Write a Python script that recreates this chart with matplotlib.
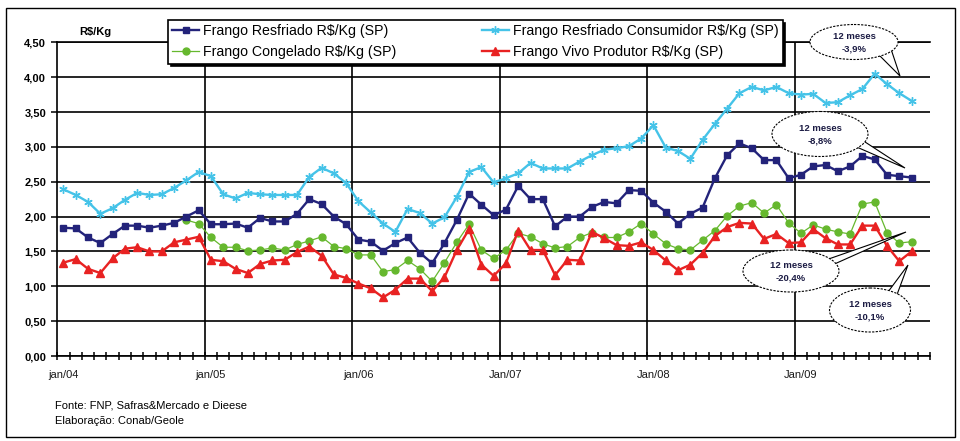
import matplotlib.pyplot as plt
import numpy as np
from matplotlib.patches import Ellipse, Polygon, Rectangle
from matplotlib.ticker import FuncFormatter

plt.rcParams['font.family'] = ['Liberation Sans', 'DejaVu Sans']

# monthly prices, jan/04 .. out/09 (R$/Kg)
year_labels = ['jan/04', 'jan/05', 'jan/06', 'Jan/07', 'Jan/08', 'Jan/09']
n_slots = 71  # axis has room for one more month

resfriado = [1.84, 1.83, 1.70, 1.62, 1.75, 1.87, 1.87, 1.84, 1.87, 1.91, 2.00, 2.09,
             1.89, 1.89, 1.90, 1.84, 1.98, 1.93, 1.93, 2.04, 2.25, 2.18, 2.00, 1.89,
             1.67, 1.64, 1.51, 1.62, 1.70, 1.48, 1.33, 1.62, 1.95, 2.33, 2.17, 2.02,
             2.10, 2.44, 2.25, 2.25, 1.86, 2.00, 2.00, 2.14, 2.21, 2.19, 2.38, 2.37,
             2.20, 2.07, 1.90, 2.04, 2.13, 2.55, 2.88, 3.05, 2.98, 2.81, 2.81, 2.55,
             2.60, 2.72, 2.74, 2.65, 2.72, 2.87, 2.82, 2.60, 2.58, 2.56]

consumidor = [2.39, 2.31, 2.21, 2.04, 2.12, 2.24, 2.34, 2.31, 2.32, 2.41, 2.52, 2.64,
              2.58, 2.32, 2.26, 2.34, 2.32, 2.31, 2.31, 2.31, 2.57, 2.70, 2.62, 2.48,
              2.22, 2.06, 1.90, 1.78, 2.11, 2.05, 1.90, 1.99, 2.28, 2.64, 2.71, 2.49,
              2.55, 2.62, 2.77, 2.69, 2.69, 2.69, 2.79, 2.88, 2.96, 2.98, 3.01, 3.12,
              3.31, 2.99, 2.94, 2.83, 3.10, 3.33, 3.55, 3.77, 3.86, 3.81, 3.86, 3.77,
              3.75, 3.76, 3.63, 3.64, 3.74, 3.83, 4.05, 3.90, 3.77, 3.66]

congelado = [None] * 10 + [
             1.95, 1.90,
             1.70, 1.56, 1.56, 1.51, 1.52, 1.55, 1.52, 1.60, 1.65, 1.71, 1.57, 1.54,
             1.45, 1.45, 1.21, 1.24, 1.37, 1.25, 1.07, 1.34, 1.63, 1.89, 1.52, 1.40,
             1.52, 1.76, 1.71, 1.61, 1.55, 1.57, 1.70, 1.77, 1.70, 1.70, 1.78, 1.90,
             1.75, 1.61, 1.54, 1.52, 1.66, 1.80, 2.01, 2.15, 2.20, 2.05, 2.17, 1.91,
             1.76, 1.88, 1.82, 1.78, 1.75, 2.18, 2.21, 1.77, 1.62, 1.64]

vivo = [1.34, 1.39, 1.25, 1.19, 1.40, 1.54, 1.56, 1.50, 1.50, 1.63, 1.67, 1.71,
        1.38, 1.36, 1.25, 1.19, 1.32, 1.37, 1.38, 1.49, 1.57, 1.44, 1.17, 1.12,
        1.04, 0.97, 0.84, 0.95, 1.11, 1.11, 0.93, 1.13, 1.52, 1.82, 1.31, 1.15,
        1.33, 1.80, 1.52, 1.52, 1.16, 1.38, 1.37, 1.78, 1.69, 1.59, 1.58, 1.63,
        1.52, 1.37, 1.23, 1.31, 1.48, 1.72, 1.85, 1.91, 1.90, 1.68, 1.75, 1.62,
        1.63, 1.82, 1.69, 1.60, 1.60, 1.87, 1.87, 1.58, 1.36, 1.50]

callouts = ['12 meses\n-3,9%', '12 meses\n-8,8%', '12 meses\n-20,4%', '12 meses\n-10,1%']

x = np.arange(len(resfriado))
W, H = 960, 441

fig = plt.figure(figsize=(9.6, 4.41), dpi=100)
ax = fig.add_axes([57.3 / W, 1 - 356 / H, (930 - 57.3) / W, (356 - 42.3) / H])

h1, = ax.plot(x, resfriado, color='#23237A', lw=1.7, marker='s', ms=5, zorder=4)
h2, = ax.plot(x, consumidor, color='#45C3E8', lw=1.7, marker=(6, 2, 0), ms=6,
              mew=1.0, zorder=3)
h3, = ax.plot(x, np.array(congelado, dtype=float), color='#66B82E', lw=0.9,
              marker='o', ms=5, zorder=3)
h4, = ax.plot(x, vivo, color='#E82222', lw=1.7, marker='^', ms=5.5, zorder=4)

ax.set_xlim(-0.5, n_slots - 0.5)
ax.set_ylim(0, 4.5)
ax.set_yticks(np.arange(0, 4.51, 0.5))
ax.yaxis.set_major_formatter(FuncFormatter(lambda v, p: f'{v:.2f}'.replace('.', ',')))
ax.yaxis.grid(True, color='black', lw=1.2)
ax.set_axisbelow(True)
for k in range(1, 6):
    ax.axvline(12 * k - 0.5, color='black', lw=1.2, zorder=1)

ax.set_xticks(np.arange(0, 61, 12), year_labels)
ax.set_xticks(np.arange(-0.5, n_slots, 1), minor=True)
ax.tick_params(axis='x', which='major', length=0, pad=10, labelsize=8, colors='#1a1a1a')
ax.tick_params(axis='x', which='minor', direction='inout', length=6, width=1.1)
ax.tick_params(axis='y', direction='out', length=4, width=1.1, pad=4, labelsize=8)
for t in ax.get_yticklabels():
    t.set_fontweight('bold')
ax.spines['right'].set_visible(False)
for s in ['left', 'bottom', 'top']:
    ax.spines[s].set_linewidth(1.2)

fig.text(95 / W, 1 - 32 / H, 'R$/Kg', ha='center', va='center', fontsize=8,
         fontweight='bold')

leg = ax.legend([h1, h3, h2, h4],
                ['Frango Resfriado R$/Kg (SP)', 'Frango Congelado R$/Kg (SP)',
                 'Frango Resfriado Consumidor R$/Kg (SP)',
                 'Frango Vivo Produtor R$/Kg (SP)'],
                ncol=2, loc='upper left', bbox_to_anchor=(168 / W, 1 - 20 / H),
                bbox_transform=fig.transFigure, fontsize=10.2, fancybox=False,
                edgecolor='black', framealpha=1, borderpad=0.3, labelspacing=0.5,
                handlelength=1.9, handletextpad=0.3, columnspacing=6.0,
                borderaxespad=0, shadow={'color': 'black', 'alpha': 1})
leg.get_frame().set_linewidth(1.2)
leg.set_zorder(10)

fig.text(55 / W, 1 - 406 / H, 'Fonte: FNP, Safras&Mercado e Dieese', fontsize=8,
         va='center')
fig.text(55 / W, 1 - 421 / H, 'Elaboração: Conab/Geole', fontsize=8, va='center')

# overlay in pixel coordinates for the frame and speech bubbles
ov = fig.add_axes([0, 0, 1, 1], facecolor='none', zorder=20)
ov.set_xlim(0, W)
ov.set_ylim(H, 0)
ov.axis('off')
ov.add_patch(Rectangle((6, 8), 949, 429, fill=False, ec='black', lw=1.0))

bubbles = [((854, 42), 88, 35, [(876, 52), (900, 76), (890, 46)]),
           ((820, 134), 96, 45, [(852, 145), (905, 168), (862, 140)]),
           ((791, 271), 96, 42, [(820, 262), (906, 232), (830, 266)]),
           ((870, 310), 81, 44, [(885, 296), (908, 265), (895, 300)])]
for (c, w, h, tail), txt in zip(bubbles, callouts):
    ov.add_patch(Polygon(tail, closed=True, fc='white', ec='black', lw=0.8, zorder=1))
    ov.add_patch(Ellipse(c, w, h, fc='white', ec='black', lw=0.8,
                         ls=(0, (2, 1.2)), zorder=2))
    ov.text(c[0], c[1] + 1, txt, ha='center', va='center', fontsize=6.8,
            fontweight='bold', color='#1c1c44', linespacing=1.5, zorder=3)

fig.savefig('out.png', dpi=100)
